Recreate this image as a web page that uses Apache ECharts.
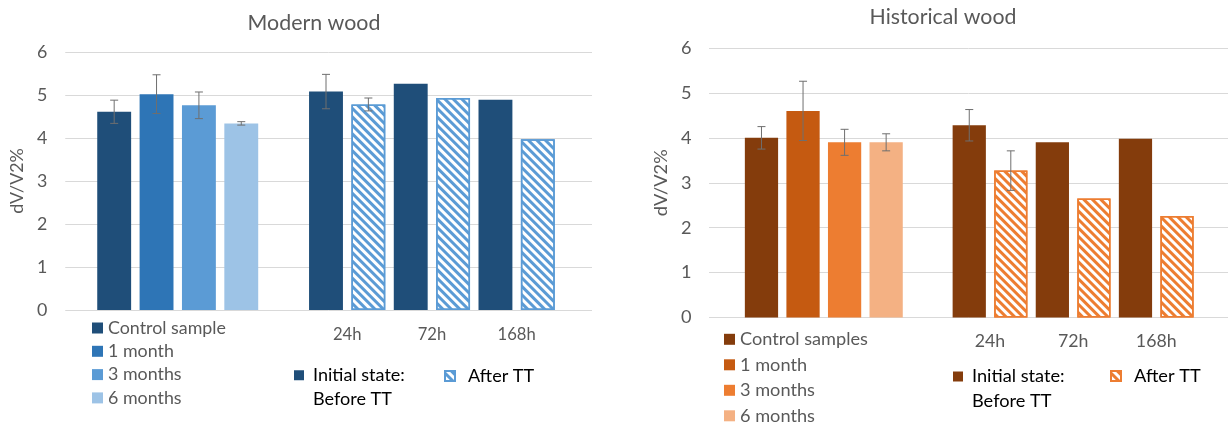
<!DOCTYPE html>
<html>
<head>
<meta charset="utf-8">
<script src="https://cdn.jsdelivr.net/npm/echarts@6/dist/echarts.min.js"></script>
<style>
html,body{margin:0;padding:0;background:#fff;}
#wrap{width:1231px;height:426px;position:relative;}
#left{position:absolute;left:0;top:0;width:615px;height:426px;}
#right{position:absolute;left:615px;top:0;width:616px;height:426px;}
</style>
</head>
<body>
<div id="wrap"><div id="left"></div><div id="right"></div></div>
<script>
// ---------- DATA ----------
const yTicks = [0, 1, 2, 3, 4, 5, 6];
const timeLabels = ['24h', '72h', '168h'];

const modernTitle = 'Modern wood';
const modernAgeNames = ['Control sample', '1 month', '3 months', '6 months'];
const modernAgeValues = [4.61, 5.02, 4.76, 4.34];
const modernAgeErrors = [0.27, 0.45, 0.31, 0.04];
const modernBeforeValues = [5.08, 5.26, 4.89];
const modernBeforeErrors = [0.40, null, null];
const modernAfterValues = [4.78, 4.93, 3.97];
const modernAfterErrors = [0.15, null, null];

const historicalTitle = 'Historical wood';
const historicalAgeNames = ['Control samples', '1 month', '3 months', '6 months'];
const historicalAgeValues = [4.00, 4.60, 3.90, 3.90];
const historicalAgeErrors = [0.25, 0.66, 0.29, 0.19];
const historicalBeforeValues = [4.28, 3.90, 3.98];
const historicalBeforeErrors = [0.35, null, null];
const historicalAfterValues = [3.27, 2.65, 2.26];
const historicalAfterErrors = [0.44, null, null];

const beforeName = 'Initial state:\nBefore TT';
const afterName = 'After TT';
const axisName = 'dV/V2%';

// ---------- HELPERS ----------
const FONT = 'Lato';
const mctx = document.createElement('canvas').getContext('2d');
function fitSize(text, target) {
  mctx.font = '100px ' + FONT;
  return 100 * target / mctx.measureText(text).width;
}

function build(d, L) {
  const nSlots = d.ageNames.length + 1 + d.beforeValues.length * 2;
  const slots = [];
  for (let i = 0; i < nSlots; i++) slots.push('s' + i);
  const labelCats = new Array(nSlots + 1).fill('');
  d.timeLabels.forEach((t, j) => { labelCats[d.ageNames.length + 2 + 2 * j] = t; });
  const blank = () => new Array(nSlots).fill('-');
  const series = [];
  const errData = [];
  d.ageNames.forEach((nm, i) => {
    const arr = blank(); arr[i] = d.ageValues[i];
    if (d.ageErrors[i] != null) errData.push([i, d.ageValues[i], d.ageErrors[i]]);
    series.push({
      name: nm, type: 'bar', xAxisIndex: 1, yAxisIndex: 1, stack: 'all', barWidth: '80%',
      data: arr, itemStyle: { color: L.ageColors[i] }, silent: true
    });
  });
  const bArr = blank(), aArr = blank();
  d.beforeValues.forEach((v, j) => {
    const s = d.ageNames.length + 1 + 2 * j;
    bArr[s] = v;
    if (d.beforeErrors[j] != null) errData.push([s, v, d.beforeErrors[j]]);
  });
  d.afterValues.forEach((v, j) => {
    const s = d.ageNames.length + 2 + 2 * j;
    aArr[s] = v;
    if (d.afterErrors[j] != null) errData.push([s, v, d.afterErrors[j]]);
  });
  series.push({
    name: beforeName, type: 'bar', xAxisIndex: 1, yAxisIndex: 1, stack: 'all', barWidth: '80%',
    data: bArr, itemStyle: { color: L.beforeColor }, silent: true
  });
  series.push({
    name: afterName, type: 'bar', xAxisIndex: 1, yAxisIndex: 1, stack: 'all', barWidth: '80%',
    data: aArr, silent: true,
    itemStyle: {
      color: '#ffffff', borderColor: L.afterColor, borderWidth: 1.5,
      decal: { symbol: 'rect', symbolSize: 1, color: L.afterColor, dashArrayX: [1, 0], dashArrayY: [3, 3], rotation: Math.PI / 4 }
    }
  });
  series.push({
    type: 'custom', xAxisIndex: 1, yAxisIndex: 1, z: 5, silent: true, data: errData,
    renderItem: function (params, api) {
      const x = api.value(0), v = api.value(1), e = api.value(2);
      const t = api.coord([x, v + e]), b = api.coord([x, v - e]);
      const hw = 4, st = { stroke: '#6f6f6f', lineWidth: 1 };
      return { type: 'group', children: [
        { type: 'line', shape: { x1: t[0], y1: t[1], x2: b[0], y2: b[1] }, style: st },
        { type: 'line', shape: { x1: t[0] - hw, y1: t[1], x2: t[0] + hw, y2: t[1] }, style: st },
        { type: 'line', shape: { x1: b[0] - hw, y1: b[1], x2: b[0] + hw, y2: b[1] }, style: st }
      ]};
    }
  });

  const legSize = fitSize(d.ageNames[0], L.legW);
  const botSize = fitSize('Initial state:', L.botW);
  const tickSize = fitSize(d.timeLabels[0], L.tickW);
  const titleSize = fitSize(d.title, L.titleW);
  const legLH = 20;

  return {
    animation: false,
    textStyle: { fontFamily: FONT },
    title: {
      text: d.title, left: L.titleX, top: L.titleTop, padding: 0, textAlign: 'center',
      textStyle: { fontFamily: FONT, fontSize: titleSize, fontWeight: 'normal', color: '#595959' }
    },
    grid: [
      { left: L.gA.left, right: L.gA.right, top: L.gA.top, bottom: L.gA.bottom },
      { left: L.gB.left, right: L.gB.right, top: L.gA.top, bottom: L.gA.bottom }
    ],
    xAxis: [
      { type: 'value', gridIndex: 0, min: 0, max: 1, show: false },
      { type: 'category', gridIndex: 1, data: slots, show: false },
      { type: 'category', gridIndex: 1, data: labelCats, boundaryGap: false, position: 'bottom',
        axisLine: { show: false }, axisTick: { show: false }, splitLine: { show: false },
        axisLabel: { interval: 0, margin: L.tickMargin, color: '#595959', fontFamily: FONT, fontSize: tickSize } }
    ],
    yAxis: [
      { type: 'value', gridIndex: 0, min: yTicks[0], max: yTicks[yTicks.length - 1], interval: yTicks[1] - yTicks[0],
        axisLine: { show: false }, axisTick: { show: false },
        splitLine: { lineStyle: { color: '#d9d9d9', width: 1 } },
        axisLabel: { margin: L.yMargin, color: '#595959', fontFamily: FONT, fontSize: legSize },
        name: axisName, nameLocation: 'middle', nameGap: L.nameGap,
        nameTextStyle: { color: '#595959', fontFamily: FONT, fontSize: legSize } },
      { type: 'value', gridIndex: 1, min: yTicks[0], max: yTicks[yTicks.length - 1], show: false }
    ],
    legend: [
      { data: d.ageNames, orient: 'vertical', left: L.leg1.left, top: L.leg1.top - legLH / 2, padding: 0,
        itemGap: L.leg1.spacing - legLH, itemWidth: 11, itemHeight: 11, icon: 'rect', selectedMode: false,
        textStyle: { color: '#595959', fontFamily: FONT, fontSize: legSize, lineHeight: legLH } },
      { data: [beforeName], left: L.leg2.left, top: L.leg2.top, padding: 0, icon: 'rect',
        itemWidth: 10, itemHeight: 10, selectedMode: false,
        formatter: n => '\n' + n,
        textStyle: { color: '#000000', fontFamily: FONT, fontSize: botSize, lineHeight: L.leg2.lh, padding: [0, 0, 0, 4] } },
      { data: [afterName], left: L.leg3.left, top: L.leg3.top - legLH / 2, padding: 0, icon: 'rect',
        itemWidth: 10, itemHeight: 10, selectedMode: false,
        textStyle: { color: '#000000', fontFamily: FONT, fontSize: botSize, lineHeight: legLH, padding: [0, 0, 0, 8] } }
    ],
    series: series
  };
}

const modern = {
  title: modernTitle, ageNames: modernAgeNames, ageValues: modernAgeValues, ageErrors: modernAgeErrors,
  beforeValues: modernBeforeValues, beforeErrors: modernBeforeErrors,
  afterValues: modernAfterValues, afterErrors: modernAfterErrors, timeLabels: timeLabels
};
const historical = {
  title: historicalTitle, ageNames: historicalAgeNames, ageValues: historicalAgeValues, ageErrors: historicalAgeErrors,
  beforeValues: historicalBeforeValues, beforeErrors: historicalBeforeErrors,
  afterValues: historicalAfterValues, afterErrors: historicalAfterErrors, timeLabels: timeLabels
};

const layoutLeft = {
  ageColors: ['#1f4e79', '#2e75b6', '#5b9bd5', '#9dc3e6'], beforeColor: '#1f4e79', afterColor: '#5b9bd5',
  titleX: 314, titleTop: 13, titleW: 133,
  gA: { left: 61, right: 23, top: 52, bottom: 116 },
  gB: { left: 93, right: 56 },
  legW: 118, botW: 92, tickW: 28.6,
  tickMargin: 16, yMargin: 18, nameGap: 36,
  leg1: { left: 92, top: 328, spacing: 23.3 },
  leg2: { left: 294, top: 340, lh: 23.5 },
  leg3: { left: 444, top: 376 }
};
const layoutRight = {
  ageColors: ['#843c0c', '#c55a11', '#ed7d31', '#f4b183'], beforeColor: '#843c0c', afterColor: '#ed7d31',
  titleX: 328, titleTop: 7, titleW: 147,
  gA: { left: 94, right: 3, top: 48, bottom: 108.5 },
  gB: { left: 125.7, right: 33.2 },
  legW: 128, botW: 92.7, tickW: 30.5,
  tickMargin: 15, yMargin: 17.5, nameGap: 36,
  leg1: { left: 109, top: 339.3, spacing: 25.5 },
  leg2: { left: 338, top: 339, lh: 25 },
  leg3: { left: 495, top: 376 }
};

const c1 = echarts.init(document.getElementById('left'), null, { renderer: 'canvas' });
c1.setOption(build(modern, layoutLeft));
const c2 = echarts.init(document.getElementById('right'), null, { renderer: 'canvas' });
c2.setOption(build(historical, layoutRight));
</script>
</body>
</html>
